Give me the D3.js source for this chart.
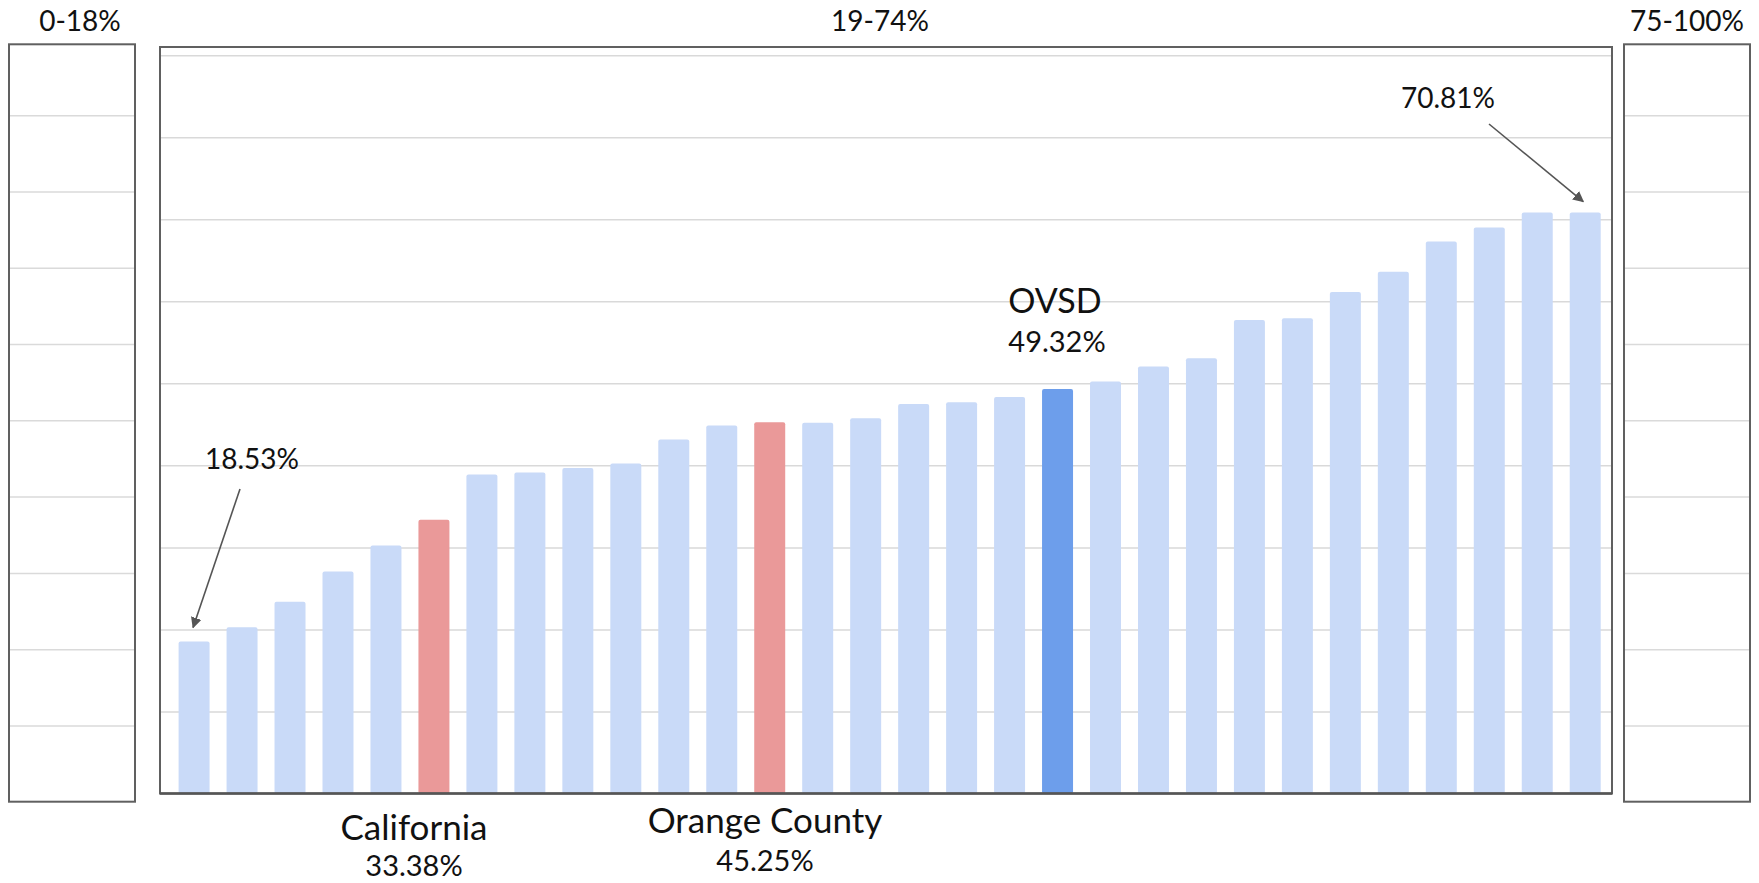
<!DOCTYPE html>
<html><head><meta charset="utf-8">
<script src="https://cdn.jsdelivr.net/npm/d3@7"></script>
<style>
body{margin:0;background:#fff}
text{font-family:Lato,"Open Sans",sans-serif;fill:#111}
</style>
</head><body>
<svg id="c" width="1759" height="883"></svg>
<script>
// ---- data ----
const barValues = [18.53, 20.28, 23.38, 27.07, 30.23, 33.38, 38.88, 39.13, 39.69, 40.22,
                   43.14, 44.85, 45.25, 45.2, 45.74, 47.49, 47.69, 48.34, 49.32, 50.21,
                   52.04, 53.05, 57.72, 57.92, 61.13, 63.61, 67.3, 69.0, 70.81, 70.81];
const barGroups = ["other","other","other","other","other","state","other","other","other","other",
                   "other","other","county","other","other","other","other","other","district","other",
                   "other","other","other","other","other","other","other","other","other","other"];
const rangeTitles = ["0-18%", "19-74%", "75-100%"];
const gridTicks = [10, 20, 30, 40, 50, 60, 70, 80, 90];
const calloutNames = ["California", "Orange County", "OVSD"];
const calloutValues = ["33.38%", "45.25%", "49.32%"];
const extremeLabels = ["18.53%", "70.81%"];

const groupColors = {other:"#c9daf8", state:"#ea9999", county:"#ea9999", district:"#6d9eeb"};

const svg = d3.select("#c");

// arrow marker
svg.append("defs").append("marker")
  .attr("id","arr").attr("viewBox","0 0 10 10").attr("refX",9).attr("refY",5)
  .attr("markerWidth",11).attr("markerHeight",11).attr("markerUnits","userSpaceOnUse")
  .attr("orient","auto")
  .append("path").attr("d","M0,0 L10,5 L0,10 Z").attr("fill","#555");

// ---- side boxes ----
const sideY = d3.scaleLinear().domain([0, 99.3]).range([801.7, 44.3]);
const sideBoxes = [{x0:9, x1:135}, {x0:1624, x1:1750}];
sideBoxes.forEach(b => {
  const g = svg.append("g").attr("transform", `translate(${b.x0},0)`);
  const ax = g.append("g").call(d3.axisLeft(sideY).tickValues(gridTicks).tickSize(-(b.x1-b.x0)).tickFormat(""));
  ax.select(".domain").remove();
  ax.selectAll("line").attr("stroke","#dadada").attr("stroke-width",1.5);
  g.append("rect").attr("x",0).attr("y",sideY.range()[1]).attr("width",b.x1-b.x0)
    .attr("height",sideY.range()[0]-sideY.range()[1]).attr("fill","none")
    .attr("stroke","#606060").attr("stroke-width",2);
});

// ---- main chart ----
const L = 160, R = 1612;
const y = d3.scaleLinear().domain([0, 91]).range([793.5, 47]);
const x = d3.scaleBand().domain(d3.range(barValues.length)).range([170.1, 1609.2])
  .paddingInner(0.354).paddingOuter(0.177);

const grid = svg.append("g").attr("transform",`translate(${L},0)`)
  .call(d3.axisLeft(y).tickValues(gridTicks).tickSize(-(R-L)).tickFormat(""));
grid.select(".domain").remove();
grid.selectAll("line").attr("stroke","#d9d9d9").attr("stroke-width",1.5);

svg.append("g").selectAll("rect").data(barValues).join("rect")
  .attr("x",(d,i)=>x(i)).attr("y",d=>y(d)).attr("width",x.bandwidth())
  .attr("height",d=>y(0)-y(d)).attr("rx",2)
  .attr("fill",(d,i)=>groupColors[barGroups[i]]);

svg.append("rect").attr("x",L).attr("y",y.range()[1]).attr("width",R-L)
  .attr("height",y.range()[0]-y.range()[1]).attr("fill","none")
  .attr("stroke","#606060").attr("stroke-width",2);
svg.append("line").attr("x1",L).attr("x2",R).attr("y1",y(0)).attr("y2",y(0))
  .attr("stroke","#555").attr("stroke-width",2.5);

// ---- titles ----
const titleX = [80, 880, 1687];
svg.selectAll("text.title").data(rangeTitles).join("text").attr("class","title")
  .attr("x",(d,i)=>titleX[i]).attr("y",31).attr("text-anchor","middle")
  .attr("font-size",28).text(d=>d);

// ---- callouts ----
const calloutPos = [
  {x:414, yn:840, yv:876},
  {x:765, yn:833, yv:871},
  {x:1055, yn:313, yv:352}
];
calloutNames.forEach((n,i)=>{
  svg.append("text").attr("x",calloutPos[i].x).attr("y",calloutPos[i].yn)
    .attr("text-anchor","middle").attr("font-size",i===2?34:35).text(n);
  svg.append("text").attr("x",calloutPos[i].x + (i===2?2:0)).attr("y",calloutPos[i].yv)
    .attr("text-anchor","middle").attr("font-size",29).text(calloutValues[i]);
});

// ---- extreme labels with arrows ----
const firstI = 0, lastI = barValues.length - 1;
const ext = [
  {text:extremeLabels[0], tx:252, ty:469, x1:240, y1:489,
   x2:x(firstI)+x.bandwidth()/2 - 1, y2:y(barValues[firstI]) - 14},
  {text:extremeLabels[1], tx:1448, ty:108, x1:1489, y1:124,
   x2:x(lastI)+x.bandwidth()/2 - 2, y2:y(barValues[lastI]) - 11}
];
ext.forEach(e=>{
  svg.append("text").attr("x",e.tx).attr("y",e.ty).attr("text-anchor","middle")
    .attr("font-size",28).text(e.text);
  svg.append("line").attr("x1",e.x1).attr("y1",e.y1).attr("x2",e.x2).attr("y2",e.y2)
    .attr("stroke","#555").attr("stroke-width",1.6).attr("marker-end","url(#arr)");
});
</script>
</body></html>
